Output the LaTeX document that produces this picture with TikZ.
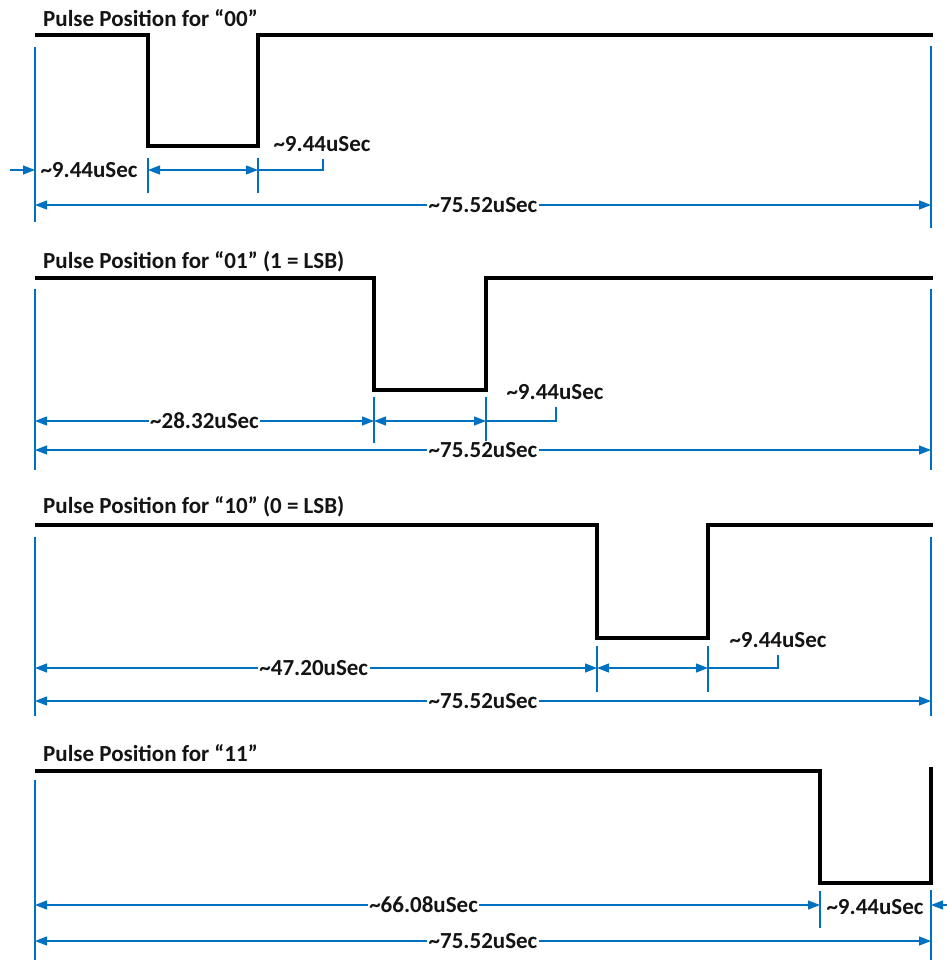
\documentclass[tikz,border=0pt]{standalone}
\usepackage{fontspec}
\setmainfont{Carlito}
\usetikzlibrary{arrows.meta}
\definecolor{dimblue}{RGB}{0,112,192}
\definecolor{txtgray}{RGB}{20,20,20}
\begin{document}
\begin{tikzpicture}[x=1pt,y=-1pt,
  sig/.style={line width=3.6pt, line join=miter, black},
  ext/.style={dimblue, line width=1.3pt},
  tip/.tip={Triangle[length=12pt,width=9pt]},
  dimboth/.style={ext, tip-tip},
  dimright/.style={ext, -tip},
  dimleft/.style={ext, tip-},
  lbl/.style={font=\bfseries\fontsize{23}{25}\selectfont, text=txtgray, inner sep=1.5pt, fill=white},
  ttl/.style={font=\bfseries\fontsize{23}{25}\selectfont, text=txtgray, inner sep=0pt, anchor=west}
]
\useasboundingbox (0,0) rectangle (946,960);

% ---------------- Panel 1 : "00"
\node[ttl] (t1) at (43,18) {Pulse Position for “00”};
\draw[sig] (35,35) -- (148,35) -- (148,146) -- (258,146) -- (258,35) -- (933,35);
\draw[ext] (35,47) -- (35,222);
\draw[ext] (931,46) -- (931,228);
\draw[ext] (148,158) -- (148,193);
\draw[ext] (258,158) -- (258,193);
\draw[dimright] (10,170) -- (35,170);
\node[lbl, fill=none] (a1) at (89,170) {\textasciitilde 9.44uSec};
\draw[dimboth] (148,170) -- (258,170);
\draw[ext] (258,170) -- (323,170) -- (323,159);
\node[lbl, fill=none] (b1) at (322,144) {\textasciitilde 9.44uSec};
\draw[dimboth] (35,205) -- (931,205) node[lbl, pos=0.5] (c1) {\textasciitilde 75.52uSec};

% ---------------- Panel 2 : "01"
\node[ttl] (t2) at (43,262) {Pulse Position for “01” (1 = LSB)};
\draw[sig] (35,278) -- (374,278) -- (374,390) -- (486,390) -- (486,278) -- (933,278);
\draw[ext] (35,289) -- (35,470);
\draw[ext] (931,289) -- (931,470);
\draw[ext] (374,397) -- (374,443);
\draw[ext] (486,397) -- (486,452);
\draw[dimboth] (35,421) -- (374,421) node[lbl, pos=0.5] (a2) {\textasciitilde 28.32uSec};
\draw[dimboth] (374,421) -- (486,421);
\draw[ext] (486,421) -- (556,421) -- (556,407);
\node[lbl, fill=none] (b2) at (555,392) {\textasciitilde 9.44uSec};
\draw[dimboth] (35,450) -- (931,450) node[lbl, pos=0.5] (c2) {\textasciitilde 75.52uSec};

% ---------------- Panel 3 : "10"
\node[ttl] (t3) at (43,507) {Pulse Position for “10” (0 = LSB)};
\draw[sig] (35,525) -- (597,525) -- (597,638) -- (708,638) -- (708,525) -- (933,525);
\draw[ext] (35,537) -- (35,716);
\draw[ext] (931,537) -- (931,716);
\draw[ext] (597,646) -- (597,692);
\draw[ext] (708,646) -- (708,692);
\draw[dimboth] (35,668) -- (597,668) node[lbl, pos=0.496] (a3) {\textasciitilde 47.20uSec};
\draw[dimboth] (597,668) -- (708,668);
\draw[ext] (708,668) -- (778,668) -- (778,655);
\node[lbl, fill=none] (b3) at (778,640) {\textasciitilde 9.44uSec};
\draw[dimboth] (35,701) -- (931,701) node[lbl, pos=0.5] (c3) {\textasciitilde 75.52uSec};

% ---------------- Panel 4 : "11"
\node[ttl] (t4) at (43,753) {Pulse Position for “11”};
\draw[sig] (35,771) -- (820,771) -- (820,883) -- (931,883) -- (931,767);
\draw[ext] (35,780) -- (35,960);
\draw[ext] (931,890) -- (931,960);
\draw[ext] (820,891) -- (820,928);
\draw[dimboth] (35,905) -- (820,905) node[lbl, pos=0.495] (a4) {\textasciitilde 66.08uSec};
\node[lbl, fill=none] (b4) at (875,907) {\textasciitilde 9.44uSec};
\draw[dimleft] (931,905) -- (948,905);
\draw[dimboth] (35,941) -- (931,941) node[lbl, pos=0.5] (c4) {\textasciitilde 75.52uSec};
\end{tikzpicture}
\end{document}
